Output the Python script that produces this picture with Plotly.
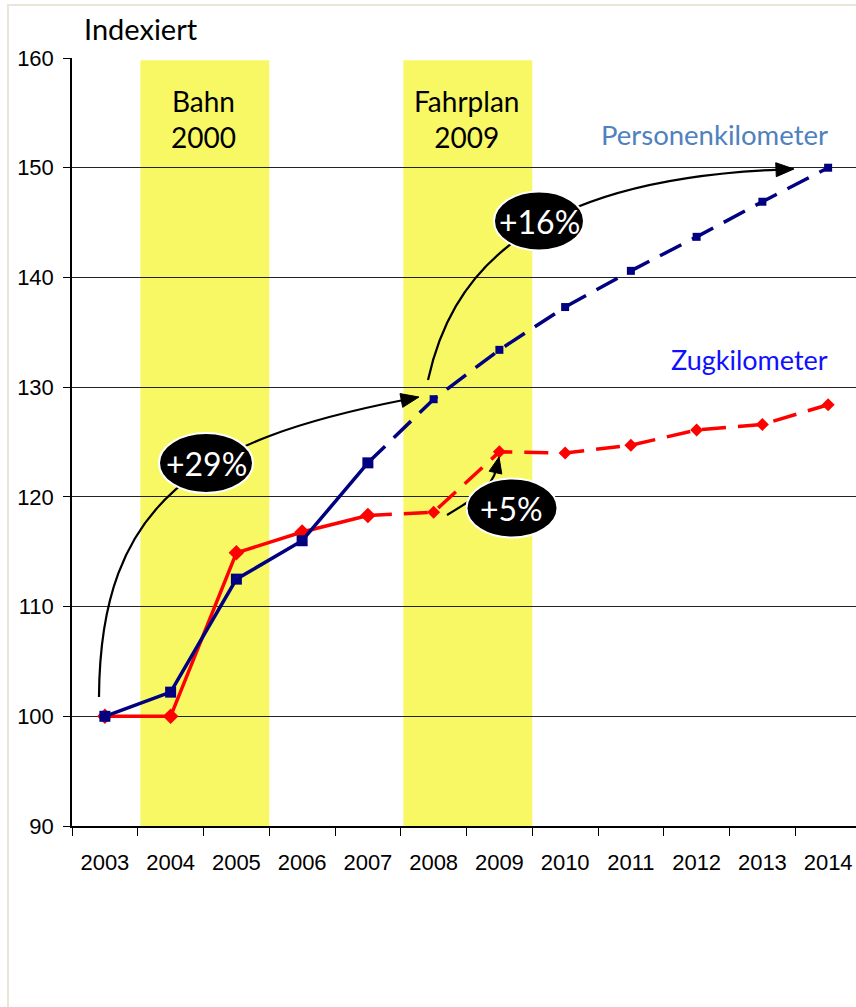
import plotly.graph_objects as go
import math

# ---------------- data ----------------
years = ["2003", "2004", "2005", "2006", "2007", "2008",
         "2009", "2010", "2011", "2012", "2013", "2014"]
pkm_name = "Personenkilometer"
pkm = [100.0, 102.2, 112.5, 116.0, 123.1, 128.9, 133.4, 137.3, 140.6, 143.7, 146.9, 150.0]
zkm_name = "Zugkilometer"
zkm = [100.0, 100.0, 114.9, 116.8, 118.3, 118.6, 124.1, 124.0, 124.7, 126.1, 126.6, 128.4]
last_actual_year = "2007"          # solid up to here, dashed (plan) afterwards

band_labels = ["Bahn<br>2000", "Fahrplan<br>2009"]
band_first = ["2004", "2008"]
band_last = ["2005", "2009"]
band_top = 159.8

growth_labels = ["+29%", "+16%", "+5%"]
y_ticks = [90, 100, 110, 120, 130, 140, 150, 160]

# ---------------- geometry ----------------
W, H = 856, 1007
L, R, T, B = 72, 856, 58, 826
PW, PH = R - L, B - T
def px(x):  # image px -> offset from plot left
    return x - L
def py(y):  # image px -> offset from plot bottom (up positive)
    return B - y
def fx(x):
    return (x - L) / PW
def fy(y):
    return (B - y) / PH

split = years.index(last_actual_year)
BLUE = "#000080"
RED = "#FF0000"
DASH = "24px,12px"
TXT = "Lato"

fig = go.Figure()

def add_series(vals, color, symbol, size_solid, size_dash, name):
    fig.add_trace(go.Scatter(
        x=years[:split + 1], y=vals[:split + 1], mode="lines+markers", name=name,
        line=dict(color=color, width=3.5),
        marker=dict(symbol=symbol, size=size_solid, color=color),
        showlegend=False, cliponaxis=False))
    fig.add_trace(go.Scatter(
        x=years[split:], y=vals[split:], mode="lines+markers", name=name,
        line=dict(color=color, width=3.5, dash=DASH),
        marker=dict(symbol=symbol, size=size_dash, color=color),
        showlegend=False, cliponaxis=False))

add_series(zkm, RED, "diamond", 12, 10, zkm_name)
add_series(pkm, BLUE, "square", 11, 8, pkm_name)

shapes = []
# outer chart frame
shapes.append(dict(type="rect", xref="paper", yref="paper",
                   x0=fx(8), x1=fx(900), y0=fy(1100), y1=fy(5),
                   line=dict(color="#E9E5D9", width=2), fillcolor="rgba(0,0,0,0)",
                   layer="below"))
# yellow bands
for lab, a, b in zip(band_labels, band_first, band_last):
    shapes.append(dict(type="rect", xref="x", yref="y",
                       x0=years.index(a) - 0.5 + 0.04, x1=years.index(b) + 0.5,
                       y0=90, y1=band_top, fillcolor="#F8F865",
                       line=dict(width=0), layer="below"))

def arrow(p0, c1, c2, tip, hl=18, hw=14):
    # cubic bezier in image px, ending in a filled arrowhead at tip
    dx, dy = tip[0] - c2[0], tip[1] - c2[1]
    n = math.hypot(dx, dy)
    ux, uy = dx / n, dy / n
    base = (tip[0] - ux * hl * 0.8, tip[1] - uy * hl * 0.8)
    path = "M {},{} C {},{} {},{} {},{}".format(
        px(p0[0]), py(p0[1]), px(c1[0]), py(c1[1]), px(c2[0]), py(c2[1]),
        px(base[0]), py(base[1]))
    shapes.append(dict(type="path", xref="paper", yref="paper",
                       xsizemode="pixel", ysizemode="pixel", xanchor=0, yanchor=0,
                       path=path, line=dict(color="black", width=2.2), layer="above"))
    b0 = (tip[0] - ux * hl, tip[1] - uy * hl)
    nx, ny = -uy, ux
    p1 = (b0[0] + nx * hw / 2, b0[1] + ny * hw / 2)
    p2 = (b0[0] - nx * hw / 2, b0[1] - ny * hw / 2)
    head = "M {},{} L {},{} L {},{} Z".format(px(tip[0]), py(tip[1]),
                                              px(p1[0]), py(p1[1]), px(p2[0]), py(p2[1]))
    shapes.append(dict(type="path", xref="paper", yref="paper",
                       xsizemode="pixel", ysizemode="pixel", xanchor=0, yanchor=0,
                       path=head, fillcolor="black", line=dict(color="black", width=1),
                       layer="above"))

arrow((99, 697), (100, 500), (200, 440), (419, 397))
arrow((428, 380), (450, 280), (520, 180), (794, 169))
arrow((447, 515), (472, 500), (492, 488), (499, 457), hl=16, hw=13)

ell_centers = [(206, 463), (539, 221), (512, 508)]
ell_r = [(47, 30), (45, 29.5), (45.5, 29.5)]
for (cx, cy), (rx, ry) in zip(ell_centers, ell_r):
    shapes.append(dict(type="circle", xref="paper", yref="paper",
                       xsizemode="pixel", ysizemode="pixel", xanchor=0, yanchor=0,
                       x0=px(cx - rx), x1=px(cx + rx), y0=py(cy + ry), y1=py(cy - ry),
                       fillcolor="black", line=dict(color="white", width=2),
                       layer="above"))

annotations = []
annotations.append(dict(text="Indexiert", xref="paper", yref="paper",
                        x=fx(82), y=fy(28), xanchor="left", yanchor="middle",
                        showarrow=False, font=dict(family=TXT, size=29, color="black")))
for lab, a, b in zip(band_labels, band_first, band_last):
    annotations.append(dict(text=lab, xref="x", yref="paper",
                            x=(years.index(a) + years.index(b)) / 2, y=fy(119),
                            xanchor="center", yanchor="middle", showarrow=False,
                            font=dict(family=TXT, size=28, color="black")))
annotations.append(dict(text=pkm_name, xref="x", yref="paper", x=len(years) - 1, xshift=2,
                        y=fy(135), xanchor="right", yanchor="middle", showarrow=False,
                        font=dict(family=TXT, size=27.5, color="#4F81BD")))
annotations.append(dict(text=zkm_name, xref="x", yref="paper", x=len(years) - 1, xshift=2,
                        y=fy(359), xanchor="right", yanchor="middle", showarrow=False,
                        font=dict(family=TXT, size=27, color="#1010FF")))
for lab, (cx, cy) in zip(growth_labels, ell_centers):
    annotations.append(dict(text=lab, xref="paper", yref="paper", x=fx(cx), y=fy(cy),
                            xanchor="center", yanchor="middle", showarrow=False,
                            font=dict(family=TXT, size=32, color="white")))

fig.update_layout(
    width=W, height=H, template="none",
    margin=dict(l=L, r=W - R, t=T, b=H - B, pad=0),
    paper_bgcolor="white", plot_bgcolor="rgba(0,0,0,0)",
    showlegend=False, shapes=shapes, annotations=annotations,
    xaxis=dict(type="category", categoryorder="array", categoryarray=years,
               range=[-0.5, -0.5 + PW / 65.75], tickson="boundaries",
               ticks="outside", ticklen=8, tickwidth=1.3, tickcolor="black",
               showline=True, linecolor="black", linewidth=2, showgrid=False,
               zeroline=False, automargin=False, ticklabelstandoff=16,
               tickfont=dict(family="Liberation Sans", size=22, color="black")),
    yaxis=dict(range=[90, 160], tickvals=y_ticks, ticks="outside", ticklen=7,
               tickwidth=1.3, tickcolor="black", showline=True, linecolor="black",
               linewidth=1.5, showgrid=True, gridcolor="#222222", gridwidth=1,
               zeroline=False, automargin=False, ticklabelstandoff=5,
               tickfont=dict(family="Liberation Sans", size=22, color="black")),
)

fig.write_html("out.html", config={"displayModeBar": False},
               post_script="document.body.style.margin='0px';document.body.style.padding='0px';")
